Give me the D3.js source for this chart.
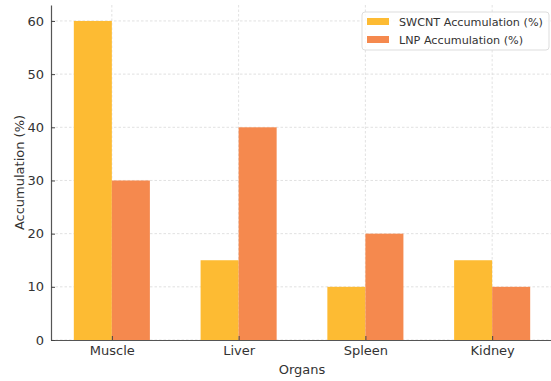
<!DOCTYPE html>
<html>
<head>
<meta charset="utf-8">
<script src="https://cdn.jsdelivr.net/npm/d3@7"></script>
<style>
  body { margin: 0; background: #fff; }
  text { font-family: "DejaVu Sans", sans-serif; fill: #333; }
</style>
</head>
<body>
<div id="chart"></div>
<script>
const organs = ["Muscle", "Liver", "Spleen", "Kidney"]
const swcnt = [60, 15, 10, 15]
const lnp = [30, 40, 20, 10]
const seriesNames = ["SWCNT Accumulation (%)", "LNP Accumulation (%)"]
const yTicks = [0, 10, 20, 30, 40, 50, 60]

const margin = {top: 5, right: 0, bottom: 41, left: 51},
    width = 551 - margin.left - margin.right,
    height = 381 - margin.top - margin.bottom;

const colors = ["#fdbb33", "#f5894e"]

const svg = d3.select("#chart")
    .append("svg")
    .attr("width", 551)
    .attr("height", 381)
    .append("g")
    .attr("transform", `translate(${margin.left}, ${margin.top})`);

// numeric x like matplotlib: index positions, bars at +-0.15
const x = d3.scaleLinear()
    .domain([-0.48, 3.48])
    .range([0, 502])

const y = d3.scaleLinear()
    .domain([0, 63])
    .range([height, 0])

const barW = x(0.3) - x(0)

// grid
svg.append("g")
    .selectAll("line")
    .data(yTicks)
    .enter().append("line")
    .attr("x1", 0).attr("x2", width)
    .attr("y1", d => y(d)).attr("y2", d => y(d))
    .attr("stroke", "#d9d9d9")
    .attr("stroke-dasharray", "2.5,2")
    .attr("stroke-width", 0.8)

svg.append("g")
    .selectAll("line")
    .data(organs)
    .enter().append("line")
    .attr("x1", (d, i) => x(i)).attr("x2", (d, i) => x(i))
    .attr("y1", 0).attr("y2", height)
    .attr("stroke", "#d9d9d9")
    .attr("stroke-dasharray", "2.5,2")
    .attr("stroke-width", 0.8)

// bars
const series = [swcnt, lnp]
series.forEach(function(vals, s) {
    svg.append("g")
        .attr("fill", colors[s])
        .selectAll("rect")
        .data(vals)
        .enter().append("rect")
        .attr("x", (d, i) => x(i) + (s === 0 ? -barW : 0))
        .attr("y", d => y(d))
        .attr("width", barW)
        .attr("height", d => y(0) - y(d))
})

// axes
const xAxis = svg.append("g")
    .attr("transform", "translate(0," + height + ")")
    .call(d3.axisBottom(x).tickValues([0, 1, 2, 3])
        .tickFormat(i => organs[i]).tickSizeInner(-4).tickSizeOuter(0).tickPadding(6))
xAxis.select(".domain").attr("stroke", "#555").attr("stroke-width", 1.2)
xAxis.selectAll(".tick line").attr("stroke", "#444")
xAxis.selectAll("text").style("font-size", "13px").attr("fill", "#333")

const yAxis = svg.append("g")
    .call(d3.axisLeft(y).tickValues(yTicks).tickSizeInner(-4).tickSizeOuter(0).tickPadding(7))
yAxis.select(".domain").attr("stroke", "#555").attr("stroke-width", 1.2)
yAxis.selectAll(".tick line").attr("stroke", "#444")
yAxis.selectAll("text").style("font-size", "13px").attr("fill", "#333")

// labels
svg.append("text")
    .attr("x", 251)
    .attr("y", height + 34)
    .attr("text-anchor", "middle")
    .style("font-size", "13px")
    .text("Organs")

svg.append("text")
    .attr("transform", `translate(-27, ${height / 2}) rotate(-90)`)
    .attr("text-anchor", "middle")
    .style("font-size", "13px")
    .text("Accumulation (%)")

// legend
const legend = svg.append("g")
    .attr("transform", `translate(${362 - margin.left}, ${12 - margin.top})`)
legend.append("rect")
    .attr("width", 187).attr("height", 38)
    .attr("rx", 3)
    .attr("fill", "#fff").attr("fill-opacity", 0.8)
    .attr("stroke", "#ddd")
seriesNames.forEach(function(n, i) {
    legend.append("rect")
        .attr("x", 5).attr("y", 6 + i * 18)
        .attr("width", 22).attr("height", 7)
        .attr("fill", colors[i])
    legend.append("text")
        .attr("x", 37).attr("y", 14 + i * 18)
        .style("font-size", "11.2px")
        .text(n)
})
</script>
</body>
</html>
